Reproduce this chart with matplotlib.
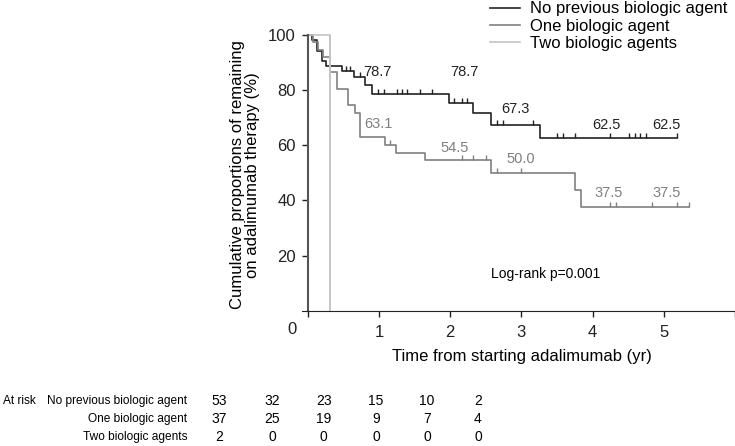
import matplotlib.pyplot as plt
import numpy as np

plt.rcParams['font.family'] = ['Liberation Sans', 'DejaVu Sans']

# Kaplan-Meier steps (years, %) -----------------------------------------------
none_t = [0, 0.06, 0.13, 0.20, 0.26, 0.48, 0.65, 0.80, 0.90, 1.99, 2.32, 2.57, 3.26]
none_s = [100, 98.1, 94.3, 90.6, 88.7, 86.8, 84.8, 81.7, 78.7, 75.4, 71.6, 67.3, 62.5]
none_end = 5.18
none_cens = [0.54, 0.59, 0.74, 0.99, 1.07, 1.25, 1.32, 1.40, 1.58, 1.74,
             2.06, 2.16, 2.24, 2.66, 2.74, 3.17,
             3.50, 3.58, 3.75, 4.25, 4.51, 4.59, 4.67, 4.75, 5.18]

one_t = [0, 0.08, 0.15, 0.22, 0.32, 0.41, 0.56, 0.66, 0.74, 1.08, 1.24, 1.65, 2.57, 3.75, 3.84]
one_s = [100, 97.3, 94.6, 91.9, 86.5, 80.3, 74.6, 71.6, 63.1, 60.1, 57.3, 54.5, 50.0, 43.8, 37.5]
one_end = 5.35
one_cens = [1.15, 2.16, 2.32, 2.50, 2.66, 2.99, 4.25, 4.33, 4.84, 5.18, 5.35]

two_t = [0, 0.32]
two_s = [100, 0]

# value labels: (x, y, text)
none_labels = [(0.975, 86.6, '78.7'), (2.2, 86.6, '78.7'), (2.91, 73.2, '67.3'),
               (4.2, 67.4, '62.5'), (5.04, 67.4, '62.5')]
one_labels = [(0.99, 67.7, '63.1'), (2.06, 59.0, '54.5'), (2.99, 55.0, '50.0'),
              (4.23, 42.7, '37.5'), (5.04, 42.7, '37.5')]

groups = ['No previous biologic agent', 'One biologic agent', 'Two biologic agents']
at_risk = [[53, 32, 23, 15, 10, 2],
           [37, 25, 19, 9, 7, 4],
           [2, 0, 0, 0, 0, 0]]

c_none, c_one, c_two = '#222222', '#808080', '#c4c4c4'

# Plot --------------------------------------------------------------------------
W, H = 735, 446
fig = plt.figure(figsize=(W/100, H/100), dpi=100)
ax = fig.add_axes([302/W, 135.3/H, 433/W, 275.7/H])


def km_step(t, s, end):
    return list(t) + [end], list(s) + [s[-1]]


def surv_at(t, s, x):
    idx = np.searchsorted(t, x, side='right') - 1
    return np.array(s)[idx]


x, y = km_step(none_t, none_s, none_end)
ax.step(x, y, where='post', color=c_none, lw=1.2, label=groups[0], clip_on=False)
x, y = km_step(one_t, one_s, one_end)
ax.step(x, y, where='post', color=c_one, lw=1.2, label=groups[1], clip_on=False)
ax.step(two_t, two_s, where='post', color=c_two, lw=1.2, label=groups[2], clip_on=False)
ax.plot([two_t[1], two_t[1]], [two_s[0], two_s[1]], color=c_two, lw=1.2)

# censor marks
for cens, t, s, c in [(none_cens, none_t, none_s, c_none), (one_cens, one_t, one_s, c_one)]:
    yy = surv_at(t, s, cens)
    ax.vlines(cens, yy, yy + 1.8, color=c, lw=1.0)

for xx, yy, txt in none_labels:
    ax.text(xx, yy, txt, color=c_none, fontsize=10.5, ha='center', va='center')
for xx, yy, txt in one_labels:
    ax.text(xx, yy, txt, color=c_one, fontsize=10.5, ha='center', va='center')

ax.text(3.34, 13.3, 'Log-rank p=0.001', fontsize=10, ha='center', va='center')

ax.set_xlim(-0.08, 5.96)
ax.set_ylim(0, 100)
ax.spines['top'].set_visible(False)
ax.spines['right'].set_visible(False)
ax.spines['left'].set_position(('data', 0))
ax.spines['left'].set_color('#555555')
ax.spines['left'].set_linewidth(1.5)
ax.spines['bottom'].set_color('#222222')
ax.set_xticks(range(7))
ax.set_xticklabels(['', '1', '2', '3', '4', '5', ''])
ax.set_yticks([20, 40, 60, 80, 100])
ax.tick_params(axis='both', labelsize=12, colors='#222222', length=4.5, width=1)
ax.tick_params(axis='x', pad=6)
ax.tick_params(axis='y', pad=4)
ax.text(-0.22, -0.07, '0', fontsize=12, color='#222222', ha='center', va='center',
        transform=ax.get_xaxis_transform())

fig.text(245/W, 1 - 175/H, 'Cumulative proportions of remaining\non adalimumab therapy (%)',
         rotation=90, ha='center', va='center', fontsize=12, linespacing=1.05)
fig.text(521.7/W, 1 - 356/H, 'Time from starting adalimumab (yr)', ha='center', va='center',
         fontsize=12)

fig.legend(loc='upper left', bbox_to_anchor=(490/W, 0.997), frameon=False, fontsize=12,
           handlelength=1.8, handletextpad=0.6, labelspacing=0.14, borderpad=0,
           borderaxespad=0)

# at-risk table
col_x = [218.8, 272.5, 323.7, 376, 427, 478]
row_y = [401, 419, 437]
fig.text(2.7/W, 1 - row_y[0]/H, 'At risk', ha='left', va='center', fontsize=8.6)
for name, counts, ry in zip(groups, at_risk, row_y):
    fig.text(187.3/W, 1 - ry/H, name, ha='right', va='center', fontsize=8.6)
    for cx, n in zip(col_x, counts):
        fig.text(cx/W, 1 - ry/H, str(n), ha='center', va='center', fontsize=10)

plt.savefig('out.png', dpi=100)
